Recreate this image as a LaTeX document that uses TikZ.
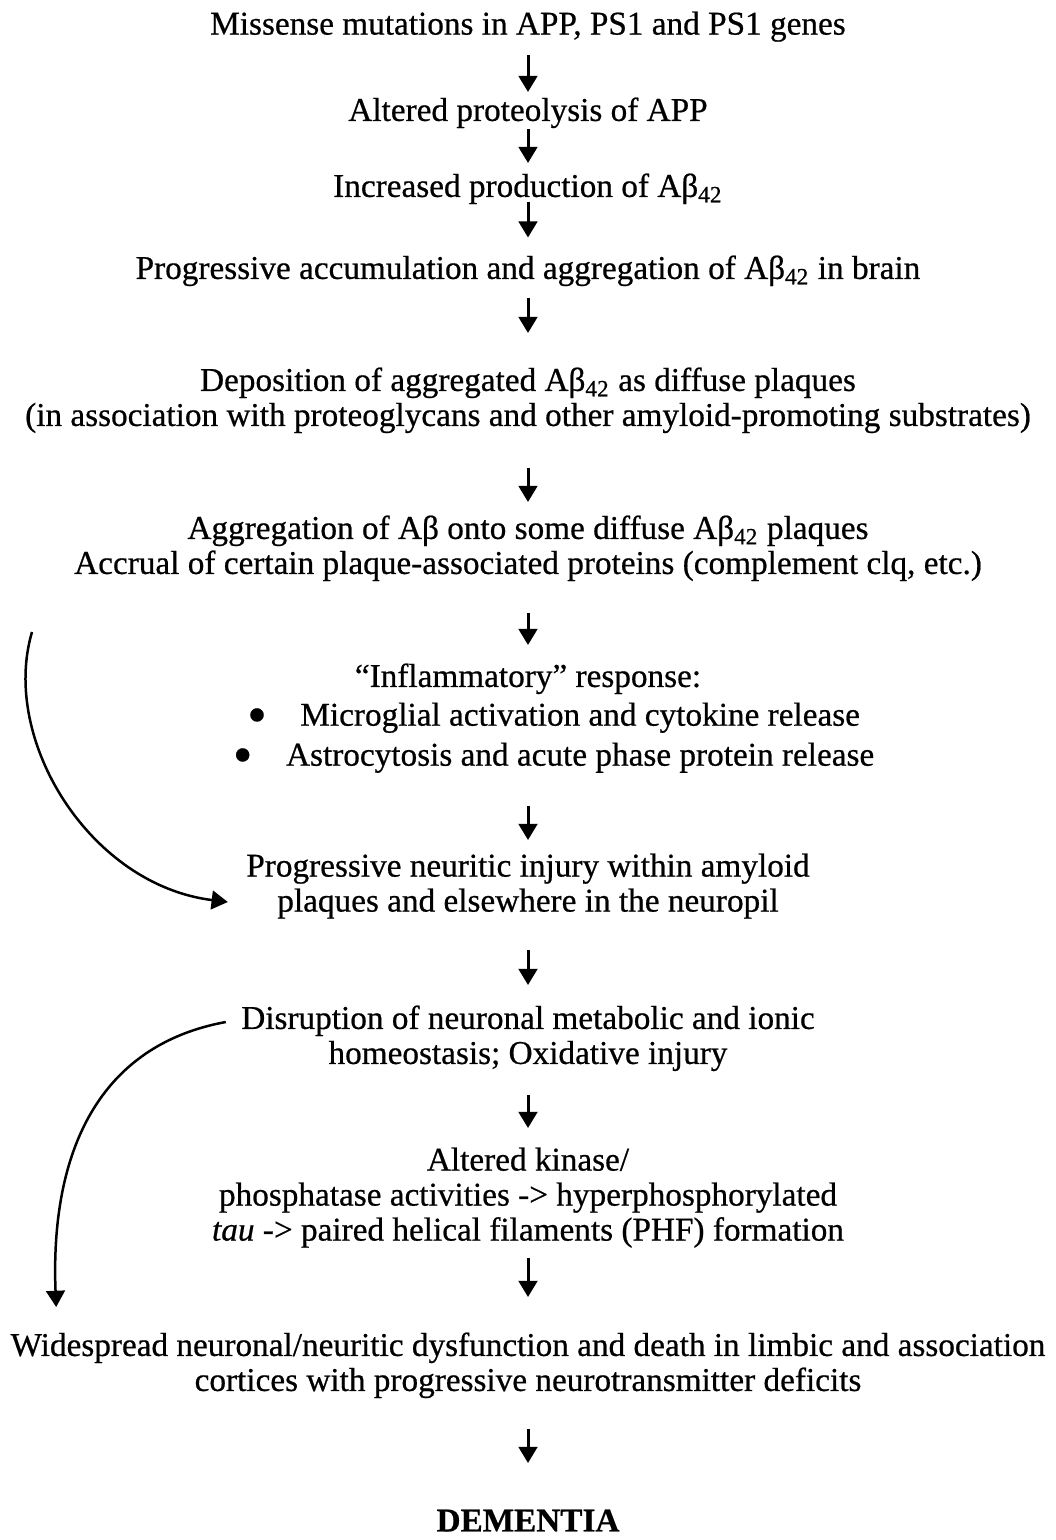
\documentclass[tikz,border=0pt]{standalone}
\usepackage{fontspec}
\setmainfont{Liberation Serif}[FakeBold=0.6]
\usepackage{tikz}
\usetikzlibrary{arrows.meta}
\newcommand{\amyloid}{Aβ\textsubscript{42}}
\newcommand{\inflitem}[1]{\hspace*{20.5pt}\raisebox{-3pt}{\fontsize{22}{14}\selectfont\textbullet}\hspace{13.5pt}#1}

\begin{document}
\begin{tikzpicture}[x=0.4pt, y=-0.4pt,
    stage/.style={anchor=north, inner sep=0pt, align=center, font=\fontsize{13.3}{14}\selectfont},
    flow/.style={line width=1.2pt, -{Triangle[length=6.5pt,width=7.5pt]}}]
    \useasboundingbox (0,0) rectangle (1055,1540);
    % Stages of the cascade
    \node[stage] (mutation) at (528,11) {Missense mutations in APP, PS1 and PS1 genes};
    \node[stage] (proteolysis) at (528,97) {Altered proteolysis of APP};
    \node[stage] (production) at (528,173) {Increased production of \amyloid};
    \node[stage] (accumulation) at (528,255) {Progressive accumulation and aggregation of \amyloid{} in brain};
    \node[stage] (deposition) at (528,367) {Deposition of aggregated \amyloid{} as diffuse plaques\\
        (in association with proteoglycans and other amyloid-promoting substrates)};
    \node[stage] (aggregation) at (528,515) {Aggregation of Aβ onto some diffuse \amyloid{} plaques\\
        Accrual of certain plaque-associated proteins (complement clq, etc.)};
    \node[stage] (inflammation) at (528,663) {“Inflammatory” response:\\[1.5pt]
        \inflitem{Microglial activation and cytokine release}\\[2pt]
        \inflitem{Astrocytosis and acute phase protein release}};
    \node[stage] (injury) at (528,853) {Progressive neuritic injury within amyloid\\
        plaques and elsewhere in the neuropil};
    \node[stage] (disruption) at (528,1005) {Disruption of neuronal metabolic and ionic\\
        homeostasis; Oxidative injury};
    \node[stage] (kinase) at (528,1147) {Altered kinase/\\
        phosphatase activities -> hyperphosphorylated\\
        \textit{tau} -> paired helical filaments (PHF) formation};
    \node[stage] (dysfunction) at (528,1332) {Widespread neuronal/neuritic dysfunction and death in limbic and association\\
        cortices with progressive neurotransmitter deficits};
    \node[stage, font=\fontsize{13.3}{14}\selectfont\bfseries] (dementia) at (528,1509) {DEMENTIA};
    % Arrows between stages
    \foreach \a/\b/\s/\e in {mutation/proteolysis/5.2/2, proteolysis/production/0/4,
        production/accumulation/-1/7, accumulation/deposition/4.4/13.6,
        deposition/aggregation/13.6/5.2, aggregation/inflammation/12.4/7.2,
        inflammation/injury/12.8/5.2, injury/disruption/12.4/8,
        disruption/kinase/9.2/7.6, kinase/dysfunction/4/14, dysfunction/dementia/12/18.4}
        \draw[flow, shorten <=\s pt, shorten >=\e pt] (\a) -- (\b);
    % Side loops
    \coordinate (loopstart) at (32,632);
    \draw[flow, line width=1pt] (loopstart) .. controls (0,740) and (90,885) .. ([shift={(-18,49)}]injury.north west);
    \draw[flow, line width=1pt] ([shift={(-15,17)}]disruption.north west) .. controls (100,1045) and (50,1150) .. ([shift={(46,-25)}]dysfunction.north west);
\end{tikzpicture}
\end{document}
